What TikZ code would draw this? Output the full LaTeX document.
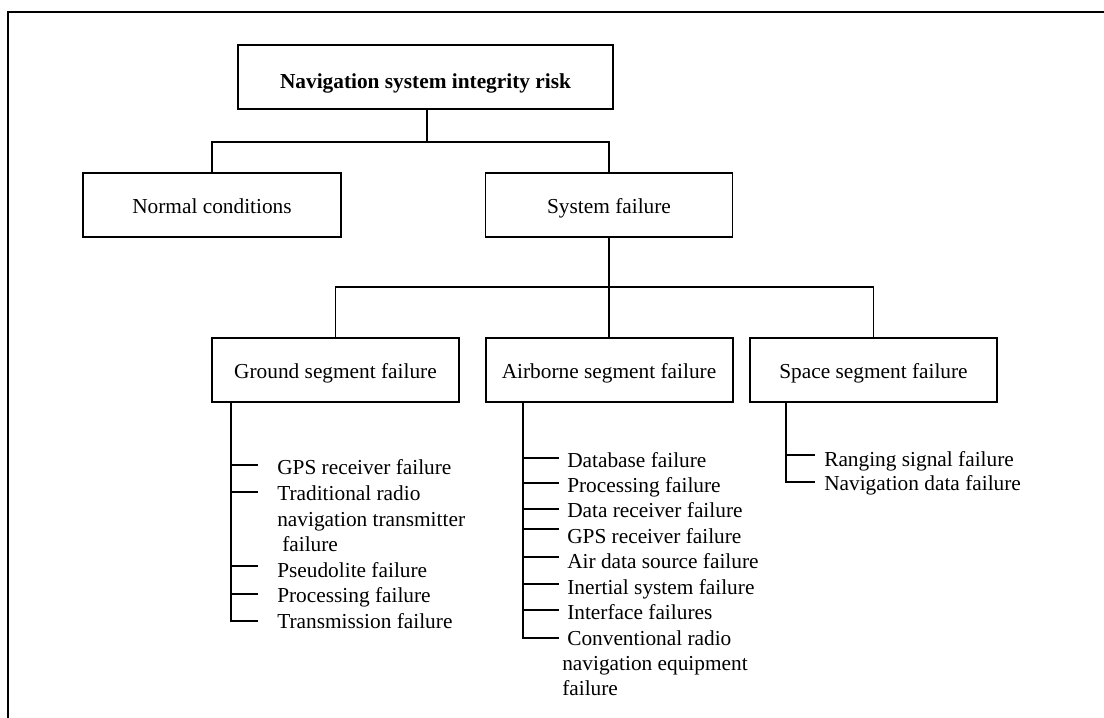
\documentclass[tikz,border=0pt]{standalone}
\usepackage{fontspec}
\setmainfont{Liberation Serif}
\begin{document}
\begin{tikzpicture}[x=0.75pt,y=-0.75pt,
  txt/.style={font=\fontsize{16}{19}\selectfont},
  box/.style={txt,draw,rectangle,inner sep=0pt,minimum height=48pt,minimum width=185.25pt,align=center,text height=15pt,text depth=3pt},
  item/.style={txt,anchor=base west,inner sep=0pt},
  conn/.style={line width=1pt},
  tick/.style={line width=1pt}]
\useasboundingbox (0,0) rectangle (1104,718);
% frame
\draw[line width=1.7pt] (8,718) -- (8,12) -- (1104,12);

% boxes
\node[box,line width=2.2pt,minimum width=281.25pt,text height=19.5pt,font=\fontsize{16}{19}\selectfont\bfseries] (top) at (425.5,77) {Navigation system integrity risk};
\node[box,line width=1.6pt,minimum width=193.5pt] (normal) at (212,205) {Normal conditions};
\node[box,line width=1.1pt] (sys) at (609,205) {System failure};
\node[box,line width=1.5pt] (ground) at (335.5,370) {Ground segment failure};
\node[box,line width=1.5pt] (air) at (609,370) {Airborne segment failure};
\node[box,line width=1.5pt] (space) at (873.5,370) {Space segment failure};

% tree connectors
\coordinate (bus1) at (427,142);
\coordinate (bus2) at (609,287);
\draw[line width=1.8pt] (top.south -| bus1) -- (bus1);
\draw[conn] (normal.north) |- (bus1) -| (sys.north);
\draw[line width=1.5pt] (sys.south) -- (bus2);
\draw[conn] (ground.north) |- (bus2) -| (space.north);
\draw[conn] (bus2) -- (air.north);

% ground list
\node[item] (g1) at (277,474.5) {GPS receiver failure};
\node[item] (g2a) at (277,500.5) {Traditional radio};
\node[item] (g2b) at (277,526) {navigation transmitter};
\node[item] (g2c) at (282,551.5) {failure};
\node[item] (g3) at (277,577) {Pseudolite failure};
\node[item] (g4) at (277,602.5) {Processing failure};
\node[item] (g5) at (277,628) {Transmission failure};
\coordinate (gs) at (231,402);
\coordinate (gk1) at (258,465);
\coordinate (gk2) at (258,492);
\coordinate (gk3) at (258,566);
\coordinate (gk4) at (258,594);
\coordinate (gk5) at (258,621);
\draw[conn] (gs) |- (gk5);
\foreach \k in {1,2,3,4} \draw[tick] (gs |- gk\k) -- (gk\k);

% airborne list
\node[item] (a1) at (567,467.3) {Database failure};
\node[item] (a2) at (567,492.3) {Processing failure};
\node[item] (a3) at (567,517.3) {Data receiver failure};
\node[item] (a4) at (567,543.3) {GPS receiver failure};
\node[item] (a5) at (567,568.3) {Air data source failure};
\node[item] (a6) at (567,594) {Inertial system failure};
\node[item] (a7) at (567,619) {Interface failures};
\node[item] (a8a) at (567,645) {Conventional radio};
\node[item] (a8b) at (562,670.4) {navigation equipment};
\node[item] (a8c) at (562,695.7) {failure};
\coordinate (as) at (523,402);
\coordinate (ak1) at (559,458);
\coordinate (ak2) at (559,483);
\coordinate (ak3) at (559,509);
\coordinate (ak4) at (559,529);
\coordinate (ak5) at (559,557);
\coordinate (ak6) at (559,584);
\coordinate (ak7) at (559,610);
\coordinate (ak8) at (559,638);
\draw[conn] (as) |- (ak8);
\foreach \k in {1,...,7} \draw[tick] (as |- ak\k) -- (ak\k);

% space list
\node[item] (s1) at (824,466.7) {Ranging signal failure};
\node[item] (s2) at (824,490.7) {Navigation data failure};
\coordinate (ss) at (786,402);
\coordinate (sk1) at (815,455);
\coordinate (sk2) at (815,482);
\draw[conn] (ss) |- (sk2);
\draw[tick] (ss |- sk1) -- (sk1);
\end{tikzpicture}
\end{document}
